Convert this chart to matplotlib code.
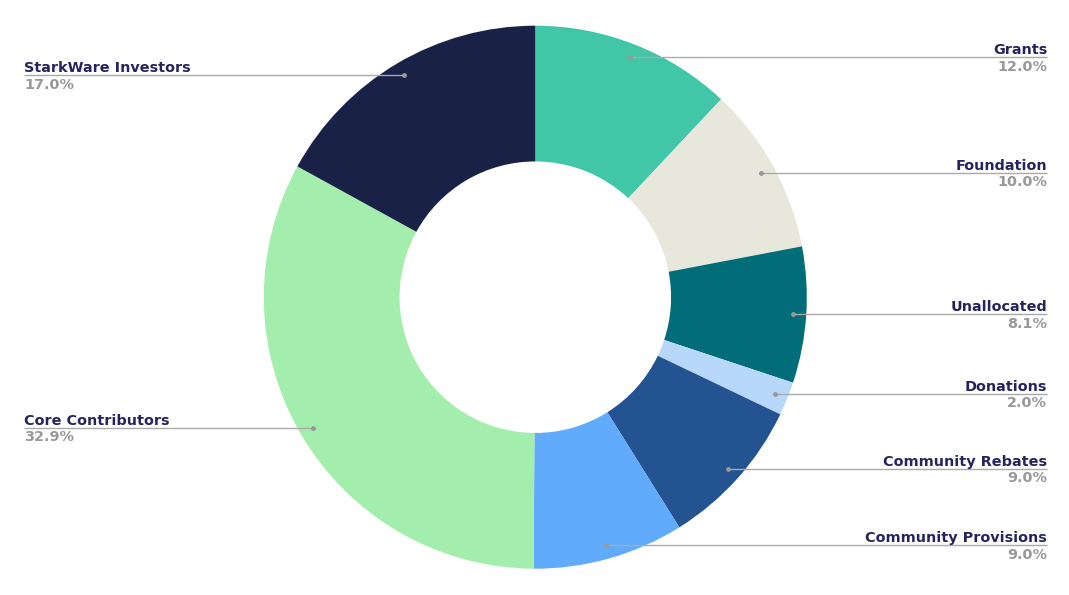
import matplotlib
matplotlib.use("Agg")
import matplotlib.pyplot as plt
import numpy as np

labels = ["Grants", "Foundation", "Unallocated", "Donations", "Community Rebates",
          "Community Provisions", "Core Contributors", "StarkWare Investors"]
values = [12.0, 10.0, 8.1, 2.0, 9.0, 9.0, 32.9, 17.0]
colors = ["#42C6A8", "#E8E7DC", "#006D78", "#B7D8FA", "#245391",
          "#61ABFD", "#A4EEAD", "#192246"]

W, H = 1069, 595
fig = plt.figure(figsize=(W / 100, H / 100), dpi=100)
ax = fig.add_axes([0, 0, 1, 1])

cx, cy = 535.3, H - 297.2
R = 271.5
wedges, _ = ax.pie(values, colors=colors, startangle=90, counterclock=False,
                   radius=R, center=(cx, cy), frame=True,
                   wedgeprops=dict(width=R * 0.5, linewidth=0))
ax.set_xlim(0, W)
ax.set_ylim(0, H)
ax.set_aspect("equal")
ax.axis("off")

name_color = "#25245E"
pct_color = "#999999"
line_color = "#AAAAAA"
fs = 10.4
for w, lab, v in zip(wedges, labels, values):
    ang = np.deg2rad((w.theta1 + w.theta2) / 2)
    px = cx + 0.95 * R * np.cos(ang)
    py = cy + 0.95 * R * np.sin(ang)
    if np.cos(ang) >= 0:
        ex, ha = 1047, "right"
    else:
        ex, ha = 24, "left"
    ax.plot([px, ex], [py, py], color=line_color, lw=1, solid_capstyle="butt", zorder=3)
    ax.plot([px], [py], "o", color="#999999", ms=2.5, zorder=4)
    ax.text(ex, py + 3, lab, ha=ha, va="baseline", fontsize=fs, fontweight="bold",
            color=name_color, family="DejaVu Sans")
    ax.text(ex, py - 13.5, f"{v:.1f}%", ha=ha, va="baseline", fontsize=fs,
            fontweight="bold", color=pct_color, family="DejaVu Sans")

fig.savefig("out.png", dpi=100, facecolor="white")
